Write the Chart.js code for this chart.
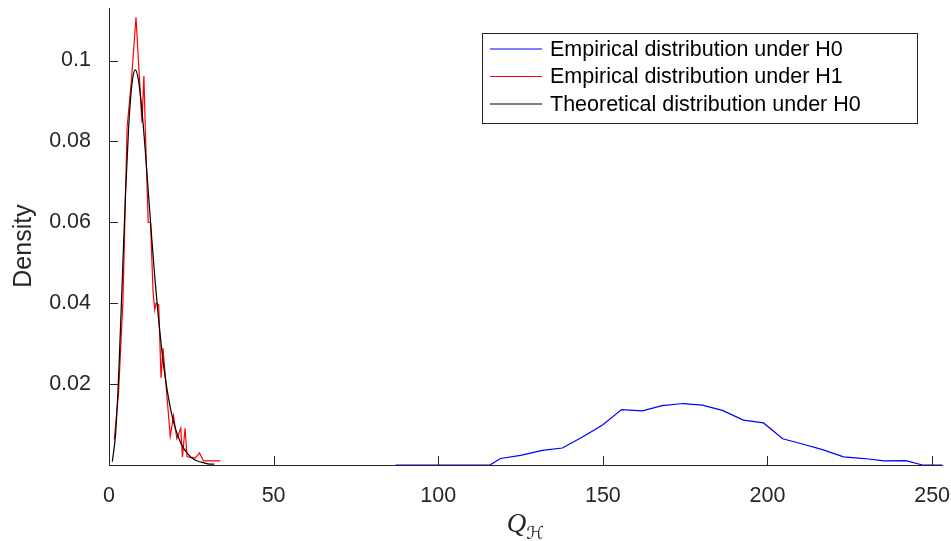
<!DOCTYPE html>
<html>
<head>
<meta charset="utf-8">
<title>Density of Q_H</title>
<script src="https://cdn.jsdelivr.net/npm/chart.js@4.4.1/dist/chart.umd.min.js"></script>
<style>
  html, body { margin: 0; padding: 0; background: #fff; }
  #wrap { width: 951px; height: 541px; }
</style>
</head>
<body>
<div id="wrap"><canvas id="densityChart" width="951" height="541"></canvas></div>
<script>
// series names, in legend order
const seriesNames = [
    'Empirical distribution under H0',
    'Empirical distribution under H1',
    'Theoretical distribution under H0'
];
const seriesColors = ['#0000ff', '#ff0000', '#000000'];

// blue: empirical density under H0
const h0X = [87, 115.7, 118.9, 125.0, 131.6, 137.7, 143.8, 149.9, 155.7, 162.0, 168.0, 174.4, 180.2,
             186.3, 192.7, 198.8, 204.6, 210.6, 216.7, 223.1, 229.4, 235.4, 242.0, 247.1, 253];
const h0Y = [0, 0, 0.0016, 0.0024, 0.0036, 0.0042, 0.0069, 0.0099, 0.0137, 0.0134, 0.0147, 0.0152, 0.0148,
             0.0135, 0.0111, 0.0104, 0.0065, 0.0052, 0.0038, 0.0020, 0.0016, 0.0010, 0.0011, 0, 0];

// red: empirical density under H1
const h1X = [1.6, 2.9, 4.25, 5.5, 6.8, 8.2, 10.0, 10.6, 11.0, 11.9, 12.6, 13.4, 13.9, 14.3, 15.1,
             15.8, 16.4, 18.6, 19.6, 20.6, 21.8, 22.3, 23.1, 23.7, 24.6, 26.2, 27.5, 28.7, 33.8];
const h1Y = [0.0063, 0.0178, 0.0408, 0.0835, 0.0950, 0.1107, 0.0847, 0.0962, 0.0840, 0.0600, 0.0600,
             0.0425, 0.0384, 0.0400, 0.0396, 0.0215, 0.0289, 0.0071, 0.0122, 0.0065, 0.0091, 0.0020,
             0.0091, 0.0021, 0.0019, 0.0017, 0.0030, 0.0010, 0.0010];

// black: theoretical density under H0
const theoX = [1, 2, 3, 4, 5, 6, 7, 8, 9, 10, 11, 12, 13, 14, 15, 16, 17, 18, 19, 20, 22, 24, 26, 28, 30, 32];
const theoY = [0.0008, 0.0077, 0.0235, 0.0451, 0.0668, 0.0840, 0.0944, 0.0977, 0.0949, 0.0877, 0.0779,
               0.0669, 0.0559, 0.0456, 0.0365, 0.0286, 0.0221, 0.0169, 0.0127, 0.0095, 0.0051, 0.0027,
               0.0013, 0.0007, 0.0003, 0.0002];

const xTicks = [0, 50, 100, 150, 200, 250];
const yTicks = [0, 0.02, 0.04, 0.06, 0.08, 0.1];

const AXIS_COLOR = '#262626';
const SANS = '"Liberation Sans", Helvetica, Arial, sans-serif';

function toPoints(xs, ys) {
    return xs.map((x, i) => ({ x: x, y: ys[i] }));
}

// MATLAB-style tick marks pointing into the plot
const innerTicks = {
    id: 'innerTicks',
    afterDraw(chart) {
        const { ctx, chartArea, scales } = chart;
        const len = 9;
        ctx.save();
        ctx.strokeStyle = AXIS_COLOR;
        ctx.lineWidth = 1;
        ctx.beginPath();
        xTicks.forEach(v => {
            const px = Math.round(scales.x.getPixelForValue(v)) + 0.5;
            ctx.moveTo(px, chartArea.bottom);
            ctx.lineTo(px, chartArea.bottom - len);
        });
        yTicks.forEach(v => {
            const py = Math.round(scales.y.getPixelForValue(v)) + 0.5;
            ctx.moveTo(chartArea.left, py);
            ctx.lineTo(chartArea.left + len, py);
        });
        ctx.stroke();
        ctx.restore();
    }
};

// axis titles: rotated "Density", and italic Q with a calligraphic H subscript
const axisTitles = {
    id: 'axisTitles',
    afterDraw(chart) {
        const { ctx, chartArea } = chart;
        ctx.save();
        ctx.fillStyle = AXIS_COLOR;

        ctx.save();
        ctx.translate(24, 246);
        ctx.rotate(-Math.PI / 2);
        ctx.font = '25px ' + SANS;
        ctx.textAlign = 'center';
        ctx.textBaseline = 'middle';
        ctx.fillText('Density', 0, 0);
        ctx.restore();

        const cx = (chartArea.left + chartArea.right) / 2;
        ctx.textBaseline = 'alphabetic';
        const qFont = 'italic 27px "Liberation Serif", "DejaVu Serif", serif';
        const hFont = '18px "DejaVu Serif", "DejaVu Sans", serif';
        ctx.font = qFont;
        const qw = ctx.measureText('Q').width;
        ctx.font = hFont;
        const hw = ctx.measureText('\u210B').width;
        const x0 = cx - (qw + hw) / 2;
        ctx.font = qFont;
        ctx.fillText('Q', x0, 532);
        ctx.font = hFont;
        ctx.fillText('\u210B', x0 + qw, 539);
        ctx.restore();
    }
};

// boxed legend in the upper right
const boxLegend = {
    id: 'boxLegend',
    afterDraw(chart) {
        const { ctx } = chart;
        const box = { x: 482.5, y: 33.5, w: 435, h: 90 };
        ctx.save();
        ctx.fillStyle = '#ffffff';
        ctx.fillRect(box.x, box.y, box.w, box.h);
        ctx.strokeStyle = AXIS_COLOR;
        ctx.lineWidth = 1;
        ctx.strokeRect(box.x, box.y, box.w, box.h);
        ctx.font = '21.5px ' + SANS;
        ctx.textBaseline = 'middle';
        chart.data.datasets.forEach((ds, i) => {
            const cy = 49 + i * 27.5;
            ctx.strokeStyle = ds.borderColor;
            ctx.lineWidth = 1.2;
            ctx.beginPath();
            ctx.moveTo(490, cy);
            ctx.lineTo(542, cy);
            ctx.stroke();
            ctx.fillStyle = '#000000';
            ctx.fillText(ds.label, 550, cy + 1);
        });
        ctx.restore();
    }
};

function createDensityChart() {
    const ctx = document.getElementById('densityChart').getContext('2d');
    new Chart(ctx, {
        type: 'line',
        data: {
            datasets: [
                {
                    label: seriesNames[0],
                    data: toPoints(h0X, h0Y),
                    borderColor: seriesColors[0],
                    borderWidth: 1.2,
                    pointRadius: 0,
                    order: 2
                },
                {
                    label: seriesNames[1],
                    data: toPoints(h1X, h1Y),
                    borderColor: seriesColors[1],
                    borderWidth: 1.2,
                    pointRadius: 0,
                    order: 1
                },
                {
                    label: seriesNames[2],
                    data: toPoints(theoX, theoY),
                    borderColor: seriesColors[2],
                    borderWidth: 1.2,
                    pointRadius: 0,
                    cubicInterpolationMode: 'monotone',
                    order: 0
                }
            ]
        },
        options: {
            responsive: false,
            animation: false,
            layout: { padding: { top: 8, right: 9, left: 0, bottom: 0 } },
            plugins: {
                legend: { display: false },
                tooltip: { enabled: false }
            },
            scales: {
                x: {
                    type: 'linear',
                    min: 0,
                    max: 253,
                    grid: { display: false },
                    border: { display: true, color: AXIS_COLOR, width: 1 },
                    ticks: {
                        color: AXIS_COLOR,
                        padding: 10,
                        maxRotation: 0,
                        font: { family: SANS, size: 21.5 }
                    },
                    afterBuildTicks: (scale) => {
                        scale.ticks = xTicks.map(v => ({ value: v }));
                    },
                    afterFit: (scale) => {
                        scale.height = 76;
                        scale.paddingLeft = 0;
                        scale.paddingRight = 0;
                    }
                },
                y: {
                    min: 0,
                    max: 0.113,
                    grid: { display: false },
                    border: { display: true, color: AXIS_COLOR, width: 1 },
                    ticks: {
                        color: AXIS_COLOR,
                        padding: 10,
                        font: { family: SANS, size: 21.5 },
                        callback: (v) => v === 0 ? '' : String(parseFloat(v.toFixed(2)))
                    },
                    afterBuildTicks: (scale) => {
                        scale.ticks = yTicks.map(v => ({ value: v }));
                    },
                    afterFit: (scale) => {
                        scale.width = 109;
                        scale.paddingTop = 0;
                        scale.paddingBottom = 0;
                    }
                }
            }
        },
        plugins: [innerTicks, axisTitles, boxLegend]
    });
}

createDensityChart();
</script>
</body>
</html>
